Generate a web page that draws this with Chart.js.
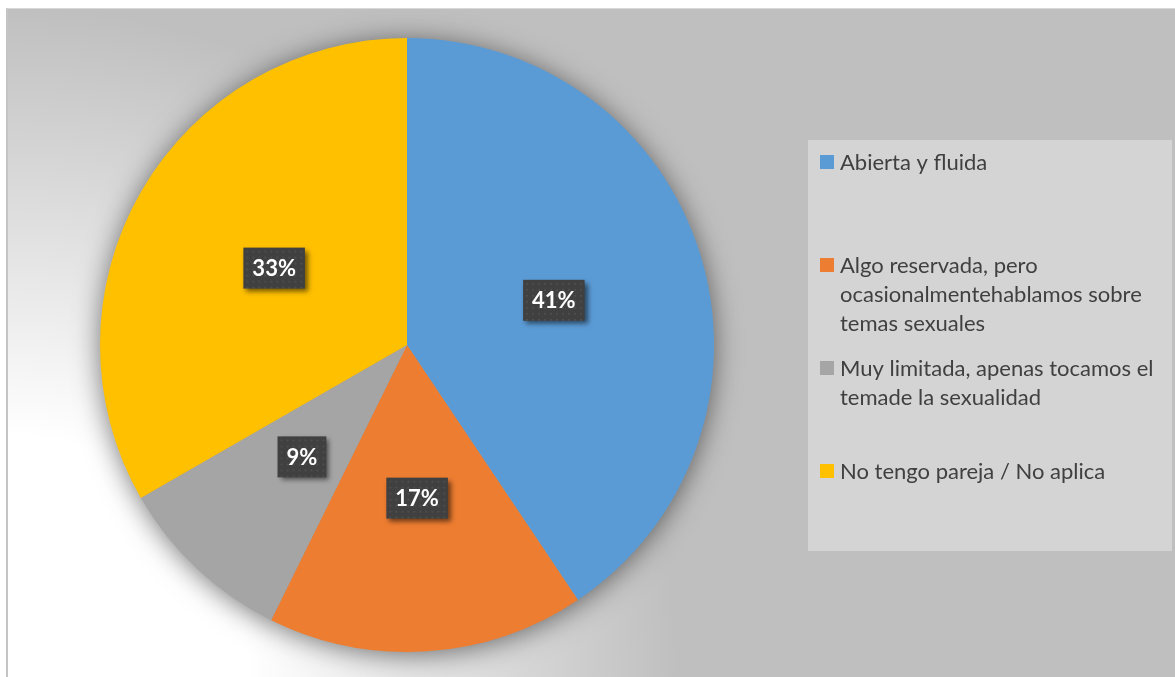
<!DOCTYPE html>
<html>
<head>
<meta charset="utf-8">
<script src="https://cdn.jsdelivr.net/npm/chart.js@4.4.0/dist/chart.umd.min.js"></script>
<style>
  html, body { margin: 0; padding: 0; background: #fff; }
  #wrap { position: relative; width: 1175px; height: 677px; overflow: hidden; }
  #bg {
    position: absolute; left: 6px; top: 8px; right: 0; bottom: 0;
    border-left: 2px solid #c4c4c4; border-top: 1px solid #d8d8d8;
    background: radial-gradient(circle at 0 100%, #ffffff 240px, #bfbfbf 670px);
  }
  canvas { position: absolute; left: 0; top: 0; }
</style>
</head>
<body>
<div id="wrap">
  <div id="bg"></div>
  <canvas id="myChart" width="1175" height="677"></canvas>
</div>
<script>
// datos del grafico
const legendLines = [
  ['Abierta y fluida'],
  ['Algo reservada, pero', 'ocasionalmentehablamos sobre', 'temas sexuales'],
  ['Muy limitada, apenas tocamos el', 'temade la sexualidad'],
  ['No tengo pareja / No aplica']
];
const categories = legendLines.map(l => l.join(' '));
const values = [40.6, 16.7, 9.4, 33.3];
const pctLabels = values.map(v => Math.round(v) + '%');
const colors = ['#5b9bd5', '#ed7d31', '#a5a5a5', '#ffc000'];

// sombra suave detras del pastel
const pieShadow = {
  id: 'pieShadow',
  beforeDatasetsDraw(chart) {
    const arc = chart.getDatasetMeta(0).data[0];
    if (!arc) return;
    const ctx = chart.ctx;
    ctx.save();
    ctx.shadowColor = 'rgba(0,0,0,0.55)';
    ctx.shadowBlur = 28;
    ctx.shadowOffsetY = 3;
    ctx.beginPath();
    ctx.arc(arc.x, arc.y, arc.outerRadius - 1, 0, Math.PI * 2);
    ctx.fillStyle = '#999';
    ctx.fill();
    ctx.restore();
  }
};

// etiquetas con caja oscura
const boxLabels = {
  id: 'boxLabels',
  afterDatasetsDraw(chart) {
    const ctx = chart.ctx;
    const meta = chart.getDatasetMeta(0);
    ctx.save();
    ctx.font = 'bold 22px Lato, "Open Sans", sans-serif';
    meta.data.forEach(function(el, i) {
      const p = el.tooltipPosition();
      const txt = pctLabels[i];
      const w = ctx.measureText(txt).width + 18;
      const h = 41;
      const x0 = p.x - w / 2, y0 = p.y - h / 2;
      ctx.save();
      ctx.shadowColor = 'rgba(0,0,0,0.55)';
      ctx.shadowBlur = 5;
      ctx.shadowOffsetX = 3;
      ctx.shadowOffsetY = 3;
      ctx.fillStyle = '#404040';
      ctx.fillRect(x0, y0, w, h);
      ctx.restore();
      // textura de puntos
      ctx.fillStyle = 'rgba(255,255,255,0.07)';
      for (let yy = y0 + 3; yy < y0 + h - 1; yy += 6) {
        for (let xx = x0 + 3; xx < x0 + w - 1; xx += 6) {
          ctx.fillRect(xx, yy, 2, 2);
        }
      }
      ctx.fillStyle = '#ffffff';
      ctx.textAlign = 'center';
      ctx.textBaseline = 'middle';
      ctx.fillText(txt, p.x, p.y + 1);
    });
    ctx.restore();
  }
};

// leyenda a la derecha
const sideLegend = {
  id: 'sideLegend',
  afterDraw(chart) {
    const ctx = chart.ctx;
    const bx = 808, by = 140, bw = 364, bh = 411;
    ctx.save();
    ctx.fillStyle = '#d4d4d4';
    ctx.fillRect(bx, by, bw, bh);
    ctx.font = '22px Lato, "Open Sans", sans-serif';
    ctx.textBaseline = 'middle';
    legendLines.forEach(function(lines, i) {
      const yc = by + 22 + i * 103;
      ctx.fillStyle = colors[i];
      ctx.fillRect(bx + 12, yc - 7, 14, 14);
      ctx.fillStyle = '#404040';
      lines.forEach(function(line, k) {
        ctx.fillText(line, bx + 32, yc + 1 + k * 29);
      });
    });
    ctx.restore();
  }
};

const ctx = document.getElementById('myChart').getContext('2d');
const myChart = new Chart(ctx, {
  type: 'pie',
  data: {
    labels: categories,
    datasets: [{
      data: values,
      backgroundColor: colors,
      borderWidth: 0
    }]
  },
  options: {
    responsive: false,
    devicePixelRatio: 1,
    animation: false,
    layout: { padding: { left: 100, top: 38, right: 461, bottom: 25 } },
    plugins: {
      legend: { display: false },
      tooltip: { enabled: false }
    }
  },
  plugins: [pieShadow, boxLabels, sideLegend]
});
</script>
</body>
</html>
